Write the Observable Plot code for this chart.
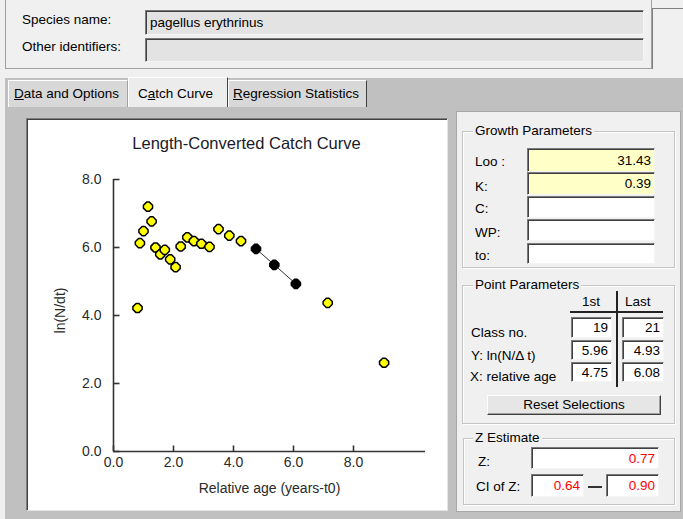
<!DOCTYPE html>
<html><head><meta charset="utf-8">
<script src="https://cdn.jsdelivr.net/npm/d3@7"></script>
<script src="https://cdn.jsdelivr.net/npm/@observablehq/plot@0.6"></script>
<style>
html,body{margin:0;padding:0;}
body{width:683px;height:519px;overflow:hidden;position:relative;background:#f0f0f0;font-family:"Liberation Sans",Arial,sans-serif;font-size:13.5px;color:#000;}
.a{position:absolute;box-sizing:border-box;}
.lbl{position:absolute;white-space:nowrap;line-height:16px;}
.inp{position:absolute;box-sizing:border-box;background:#fff;border-style:solid;border-width:1px;border-color:#7a7a7a #f4f4f4 #f4f4f4 #7a7a7a;box-shadow:inset 1px 1px 0 #404040;display:flex;align-items:center;justify-content:flex-end;padding-right:3px;white-space:nowrap;}
.grp{position:absolute;box-sizing:border-box;border:1px solid #c4c4c4;box-shadow:1px 1px 0 #fff, inset 1px 1px 0 #fff;}
.leg{position:absolute;background:#f0f0f0;padding:0 2px;line-height:16px;white-space:nowrap;}
.tab{position:absolute;box-sizing:border-box;border-top:1px solid #fff;border-left:1px solid #fff;border-right:1px solid #404040;white-space:nowrap;line-height:16px;}
.red{color:#ff0000;}
</style>
</head>
<body>
<!-- top identification panel -->
<div class="a" style="left:5px;top:-1px;width:647px;height:70px;border:1px solid #a0a0a0;"></div>
<div class="a" style="left:652px;top:8px;width:31px;height:61px;border-top:1px solid #808080;border-left:1px solid #808080;"></div>
<div class="lbl" style="left:22px;top:12px;">Species name:</div>
<div class="inp" style="left:145px;top:10px;width:499px;height:25px;background:#e3e3e3;justify-content:flex-start;padding-left:4px;">pagellus erythrinus</div>
<div class="lbl" style="left:22px;top:39px;">Other identifiers:</div>
<div class="inp" style="left:145px;top:38px;width:499px;height:24px;background:#e3e3e3;"></div>

<!-- tab area -->
<div class="a" style="left:5px;top:78px;width:678px;height:441px;background:#c0c0c0;"></div>
<div class="tab" style="left:8px;top:80px;width:120px;height:27px;background:#d8d8d8;border-right:1px solid #a0a0a0;padding:5px 0 0 5px;"><u>D</u>ata and Options</div>
<div class="tab" style="left:128px;top:77px;width:100px;height:30px;background:#ececec;padding:8px 0 0 9px;">C<u>a</u>tch Curve</div>
<div class="tab" style="left:228px;top:80px;width:139px;height:27px;background:#d8d8d8;padding:5px 0 0 4px;"><u>R</u>egression Statistics</div>

<!-- chart panel -->
<div class="a" style="left:26px;top:118px;width:422px;height:393px;background:#fff;border-style:solid;border-width:1px;border-color:#808080 #e4e4e4 #e4e4e4 #808080;box-shadow:inset 1px 1px 0 #404040;"></div>
<div id="chart" class="a" style="left:28px;top:120px;width:418px;height:389px;"></div>

<!-- right panel -->
<div class="a" style="left:456px;top:111px;width:225px;height:401px;background:#f0f0f0;border:1px solid #a8a8a8;"></div>

<div class="grp" style="left:462px;top:131px;width:213px;height:137px;"></div>
<div class="leg" style="left:473px;top:123px;">Growth Parameters</div>
<div class="lbl" style="left:475px;top:154px;">Loo :</div>
<div class="lbl" style="left:475px;top:179px;">K:</div>
<div class="lbl" style="left:475px;top:201px;">C:</div>
<div class="lbl" style="left:475px;top:225px;">WP:</div>
<div class="lbl" style="left:475px;top:248px;">to:</div>
<div class="inp" id="gLoo" style="left:527px;top:148px;width:128px;height:24px;background:#ffffc8;"></div>
<div class="inp" id="gK" style="left:527px;top:172px;width:128px;height:23px;background:#ffffc8;"></div>
<div class="inp" style="left:527px;top:196px;width:128px;height:22px;"></div>
<div class="inp" style="left:527px;top:219px;width:128px;height:22px;"></div>
<div class="inp" style="left:527px;top:243px;width:128px;height:21px;"></div>

<div class="grp" style="left:462px;top:285px;width:213px;height:139px;"></div>
<div class="leg" style="left:473px;top:277px;">Point Parameters</div>
<div class="lbl" style="left:582px;top:294px;">1st</div>
<div class="lbl" style="left:625px;top:294px;">Last</div>
<div class="a" style="left:570px;top:311px;width:93px;height:2px;background:#222;"></div>
<div class="a" style="left:616px;top:291px;width:2px;height:96px;background:#222;"></div>
<div class="lbl" style="left:471px;top:325px;">Class no.</div>
<div class="lbl" style="left:471px;top:348px;">Y: ln(N/Δ t)</div>
<div class="lbl" style="left:470px;top:369px;">X: relative age</div>
<div class="inp" id="p1c" style="left:571px;top:317px;width:41px;height:21px;"></div>
<div class="inp" id="p2c" style="left:622px;top:317px;width:42px;height:21px;"></div>
<div class="inp" id="p1y" style="left:571px;top:340px;width:41px;height:20px;"></div>
<div class="inp" id="p2y" style="left:622px;top:340px;width:42px;height:20px;"></div>
<div class="inp" id="p1x" style="left:571px;top:362px;width:41px;height:20px;"></div>
<div class="inp" id="p2x" style="left:622px;top:362px;width:42px;height:20px;"></div>
<div class="a" style="left:487px;top:395px;width:174px;height:20px;background:#e6e6e6;border-style:solid;border-width:1px;border-color:#fff #404040 #404040 #fff;box-shadow:inset -1px -1px 0 #a0a0a0;text-align:center;line-height:17px;">Reset Selections</div>

<div class="grp" style="left:463px;top:438px;width:212px;height:67px;"></div>
<div class="leg" style="left:473px;top:430px;">Z Estimate</div>
<div class="lbl" style="left:478px;top:454px;">Z:</div>
<div class="lbl" style="left:476px;top:479px;">CI of Z:</div>
<div class="inp red" id="zv" style="left:531px;top:447px;width:128px;height:22px;"></div>
<div class="inp red" id="zlo" style="left:531px;top:474px;width:53px;height:23px;"></div>
<div class="a" style="left:588px;top:486px;width:14px;height:2px;background:#333;"></div>
<div class="inp red" id="zhi" style="left:606px;top:474px;width:53px;height:23px;"></div>

<script>
// ---- data ----
const ages = [0.80, 0.88, 1.00, 1.15, 1.27, 1.40, 1.56, 1.71, 1.89, 2.07, 2.24, 2.46, 2.68, 2.93, 3.20, 3.50, 3.86, 4.25, 4.75, 5.36, 6.08, 7.14, 9.02];
const lnN  = [4.22, 6.13, 6.48, 7.20, 6.77, 6.00, 5.80, 5.93, 5.65, 5.42, 6.03, 6.30, 6.19, 6.11, 6.02, 6.54, 6.35, 6.19, 5.96, 5.49, 4.93, 4.37, 2.61];
const firstClass = 19;
const lastClass = 21;
const xTicks = [0, 2, 4, 6, 8];
const yTicks = [0, 2, 4, 6, 8];
const xMax = 10.4;
const yMax = 8;
const title = "Length-Converted Catch Curve";
const xLabel = "Relative age (years-t0)";
const yLabel = "ln(N/dt)";
const growthLoo = "31.43";
const growthK = "0.39";
const zValue = "0.77";
const zCI = ["0.64", "0.90"];

// ---- UI fields ----
const fmt2 = v => v.toFixed(2);
document.getElementById("gLoo").textContent = growthLoo;
document.getElementById("gK").textContent = growthK;
document.getElementById("p1c").textContent = firstClass;
document.getElementById("p2c").textContent = lastClass;
document.getElementById("p1y").textContent = fmt2(lnN[firstClass - 1]);
document.getElementById("p2y").textContent = fmt2(lnN[lastClass - 1]);
document.getElementById("p1x").textContent = fmt2(ages[firstClass - 1]);
document.getElementById("p2x").textContent = fmt2(ages[lastClass - 1]);
document.getElementById("zv").textContent = zValue;
document.getElementById("zlo").textContent = zCI[0];
document.getElementById("zhi").textContent = zCI[1];

// ---- chart ----
const rows = ages.map((a, i) => ({cls: i + 1, age: a, v: lnN[i], sel: i + 1 >= firstClass && i + 1 <= lastClass}));
const tickRight = {draw(ctx) { ctx.moveTo(0, 0); ctx.lineTo(6, 0); }};
const tickUp = {draw(ctx) { ctx.moveTo(0, 0); ctx.lineTo(0, -6); }};
// rounded-diamond (octagon) marker shape like the original program's
const octo = {draw(ctx) {
  const R = 4.6, s = 1.4;
  ctx.moveTo(-s, -R); ctx.lineTo(s, -R); ctx.lineTo(R, -s); ctx.lineTo(R, s);
  ctx.lineTo(s, R); ctx.lineTo(-s, R); ctx.lineTo(-R, s); ctx.lineTo(-R, -s); ctx.closePath();
}};
const ink = "#2a2a2a";

const chart = Plot.plot({
  width: 418, height: 389,
  marginLeft: 85, marginRight: 21, marginTop: 59, marginBottom: 58,
  x: {domain: [0, xMax], axis: null},
  y: {domain: [0, yMax], axis: null},
  style: {fontFamily: "'Liberation Sans', Arial, sans-serif", background: "transparent", overflow: "visible", color: ink},
  marks: [
    Plot.ruleX([0], {y1: 0, y2: yMax, stroke: "#333", strokeWidth: 1.6}),
    Plot.ruleY([0], {x1: 0, x2: xMax, stroke: "#333", strokeWidth: 1.6}),
    Plot.dot(yTicks, {x: 0, y: d => d, symbol: tickRight, fill: "none", stroke: "#333", strokeWidth: 1.6}),
    Plot.dot(xTicks, {x: d => d, y: 0, symbol: tickUp, fill: "none", stroke: "#333", strokeWidth: 1.6}),
    Plot.axisY(yTicks, {tickSize: 0, tickPadding: 12, tickFormat: d => d.toFixed(1), fontSize: 14, label: null, fill: ink}),
    Plot.axisX(xTicks, {tickSize: 0, tickPadding: 6, tickFormat: d => d.toFixed(1), fontSize: 14, label: null, fill: ink}),
    Plot.text([title], {text: d => d, frameAnchor: "top", lineAnchor: "middle", textAnchor: "middle", dx: -23, dy: -36, fontSize: 16.5, fill: "#1a1a2a"}),
    Plot.text([xLabel], {text: d => d, frameAnchor: "bottom", lineAnchor: "middle", textAnchor: "middle", dy: 37, fontSize: 14, fill: ink}),
    Plot.text([yLabel], {text: d => d, frameAnchor: "left", lineAnchor: "middle", textAnchor: "middle", rotate: -90, dx: -53, dy: -5, fontSize: 14, fill: ink}),
    Plot.line(rows.filter(d => d.sel), {x: "age", y: "v", stroke: "#333", strokeWidth: 1}),
    Plot.dot(rows.filter(d => !d.sel), {x: "age", y: "v", symbol: octo, fill: "#ffff00", stroke: "#000", strokeWidth: 1.5, strokeLinejoin: "round"}),
    Plot.dot(rows.filter(d => d.sel), {x: "age", y: "v", symbol: octo, fill: "#000", stroke: "#000", strokeWidth: 1.5, strokeLinejoin: "round"})
  ]
});
document.getElementById("chart").appendChild(chart);
</script>
</body></html>
